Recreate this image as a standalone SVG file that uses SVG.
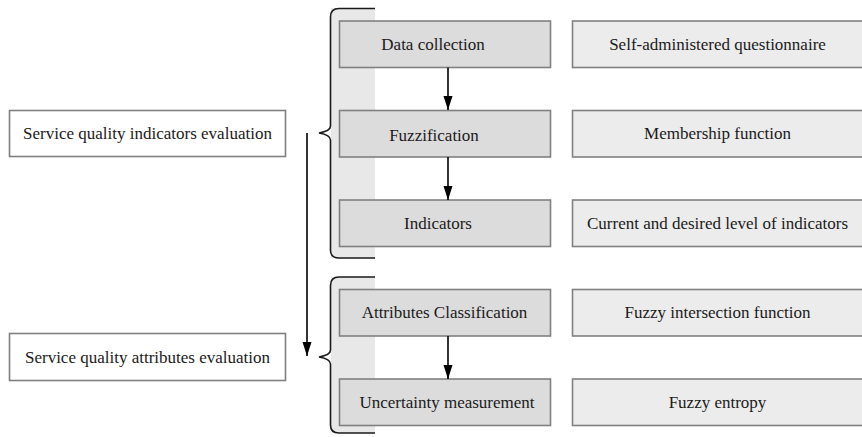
<svg xmlns="http://www.w3.org/2000/svg" width="862" height="437" viewBox="0 0 862 437" font-family="'Liberation Serif', 'DejaVu Serif', serif">
<style>
text{font-family:'Liberation Serif','DejaVu Serif',serif;font-size:17px;fill:#1a1a1a;text-anchor:middle}
.lb{fill:#ffffff;stroke:#808080;stroke-width:1.6}
.gb{fill:#dcdcdc;stroke:#808080;stroke-width:1.6}
.rb{fill:#ececec;stroke:#808080;stroke-width:1.6}
.band{fill:#e8e8e8}
.brace{fill:none;stroke:#1a1a1a;stroke-width:1.6}
.conn{fill:none;stroke:#000;stroke-width:1.6}
</style>
<defs>
<marker id="ah" viewBox="0 0 14 10" refX="14" refY="5" markerWidth="14" markerHeight="10" markerUnits="userSpaceOnUse" orient="auto">
<path d="M0,0.5 L14,5 L0,9.5 Z" fill="#000"/>
</marker>
</defs>
<g id="brace1">
<rect class="band" x="331" y="8" width="44" height="250"/>
<path class="brace" d="M375,8.5 H339 Q330.5,8.5 330.5,17 V126 Q330.5,131 319,133 Q330.5,135 330.5,140 V250 Q330.5,258 339,258 H375"/>
</g>
<g id="brace2">
<rect class="band" x="331" y="277" width="44" height="156"/>
<path class="brace" d="M375,277 H339 Q330.5,277 330.5,285.5 V350 Q330.5,355 319,357 Q330.5,359 330.5,364 V425 Q330.5,433 339,433 H375"/>
</g>
<g id="n-indicators-eval">
<rect class="lb" x="9.5" y="110.5" width="276" height="46"/>
<text x="147.5" y="139">Service quality indicators evaluation</text>
</g>
<g id="n-attributes-eval">
<rect class="lb" x="9.5" y="333.5" width="276" height="47"/>
<text x="147.5" y="362.5">Service quality attributes evaluation</text>
</g>
<g id="n-data-collection">
<rect class="gb" x="339.5" y="21" width="211" height="46.5"/>
<text x="433" y="49.5">Data collection</text>
</g>
<g id="n-fuzzification">
<rect class="gb" x="339.5" y="110.5" width="211" height="46.5"/>
<text x="434" y="140.5">Fuzzification</text>
</g>
<g id="n-indicators">
<rect class="gb" x="339.5" y="200" width="211" height="46.5"/>
<text x="438" y="229">Indicators</text>
</g>
<g id="n-attr-class">
<rect class="gb" x="339.5" y="289.5" width="211" height="46.5"/>
<text x="444.5" y="318">Attributes Classification</text>
</g>
<g id="n-uncertainty">
<rect class="gb" x="339.5" y="379" width="211" height="46.5"/>
<text x="447" y="407.5">Uncertainty measurement</text>
</g>
<g id="n-questionnaire">
<rect class="rb" x="572.5" y="21" width="300" height="46.5"/>
<text x="717.5" y="49.5">Self-administered questionnaire</text>
</g>
<g id="n-membership">
<rect class="rb" x="572.5" y="110.5" width="300" height="46.5"/>
<text x="717.5" y="139">Membership function</text>
</g>
<g id="n-current-desired">
<rect class="rb" x="572.5" y="200" width="300" height="46.5"/>
<text x="717.5" y="229">Current and desired level of indicators</text>
</g>
<g id="n-intersection">
<rect class="rb" x="572.5" y="289.5" width="300" height="46.5"/>
<text x="717.5" y="318">Fuzzy intersection function</text>
</g>
<g id="n-entropy">
<rect class="rb" x="572.5" y="379" width="300" height="46.5"/>
<text x="717.5" y="407.5">Fuzzy entropy</text>
</g>
<g id="connectors">
<line class="conn" x1="448" y1="67.5" x2="448" y2="110" marker-end="url(#ah)"/>
<line class="conn" x1="448" y1="157" x2="448" y2="200" marker-end="url(#ah)"/>
<line class="conn" x1="448" y1="336" x2="448" y2="379" marker-end="url(#ah)"/>
<line class="conn" x1="307" y1="133" x2="307" y2="356" marker-end="url(#ah)"/>
</g>
</svg>
